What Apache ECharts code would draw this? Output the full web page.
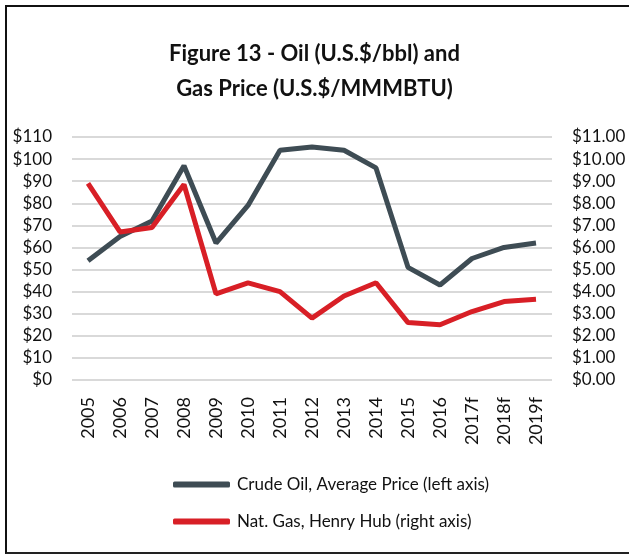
<!DOCTYPE html>
<html>
<head>
<meta charset="utf-8">
<script src="https://cdn.jsdelivr.net/npm/echarts@6/dist/echarts.min.js"></script>
<style>
    html, body { margin: 0; padding: 0; background: #fff; overflow: hidden; }
    #frame {
        position: absolute; left: 5px; top: 5px; width: 622px; height: 545px;
        border-top: 2px solid #111; border-left: 2px solid #111; border-bottom: 2px solid #222;
    }
    #chart { position: absolute; left: 0; top: 0; width: 629px; height: 554px; }
</style>
</head>
<body>
<div id="frame"></div>
<div id="chart"></div>
<script>
const years = ['2005', '2006', '2007', '2008', '2009', '2010', '2011', '2012', '2013', '2014', '2015', '2016', '2017f', '2018f', '2019f'];
const oilPrice = [54, 65, 72, 97, 62, 79, 104, 105.5, 104, 96, 51, 43, 55, 60, 62];
const gasPrice = [8.9, 6.7, 6.9, 8.85, 3.9, 4.4, 4.0, 2.8, 3.8, 4.4, 2.6, 2.5, 3.1, 3.55, 3.65];
const oilName = 'Crude Oil, Average Price (left axis)';
const gasName = 'Nat. Gas, Henry Hub (right axis)';

const font = 'Lato, "Noto Sans", sans-serif';
const chart = echarts.init(document.getElementById('chart'));

chart.setOption({
    animation: false,
    textStyle: { fontFamily: font, color: '#111' },
    title: {
        text: 'Figure 13 - Oil (U.S.$/bbl) and\nGas Price (U.S.$/MMMBTU)',
        left: 'center',
        top: 31,
        textStyle: { fontFamily: font, fontSize: 22, fontWeight: 'bold', color: '#111', lineHeight: 35 }
    },
    legend: {
        orient: 'vertical',
        left: 168,
        top: 471,
        itemWidth: 57,
        itemHeight: 6,
        itemGap: 20,
        icon: 'roundRect',
        textStyle: { fontFamily: font, fontSize: 17, color: '#111', padding: [0, 0, 0, 2] },
        data: [oilName, gasName]
    },
    grid: { left: 72, right: 77, top: 137, bottom: 174 },
    xAxis: {
        type: 'category',
        data: years,
        boundaryGap: true,
        axisLine: { show: false },
        axisTick: { show: false },
        axisLabel: { rotate: 90, margin: 17, fontSize: 18, color: '#111', fontFamily: font }
    },
    yAxis: [
        {
            type: 'value', min: 0, max: 110, interval: 10,
            axisLabel: { margin: 20, fontSize: 17, color: '#111', fontFamily: font, formatter: v => '$' + v },
            splitLine: { lineStyle: { color: '#d9d9d9', width: 2 } }
        },
        {
            type: 'value', min: 0, max: 11, interval: 1,
            axisLabel: { margin: 20, fontSize: 17, color: '#111', fontFamily: font, formatter: v => '$' + v.toFixed(2) },
            splitLine: { show: false }
        }
    ],
    series: [
        {
            name: oilName, type: 'line', yAxisIndex: 0, data: oilPrice,
            showSymbol: false, color: '#3e4c54',
            lineStyle: { width: 5, color: '#3e4c54' }
        },
        {
            name: gasName, type: 'line', yAxisIndex: 1, data: gasPrice,
            showSymbol: false, color: '#d81f26',
            lineStyle: { width: 5, color: '#d81f26' }
        }
    ]
});
</script>
</body>
</html>
